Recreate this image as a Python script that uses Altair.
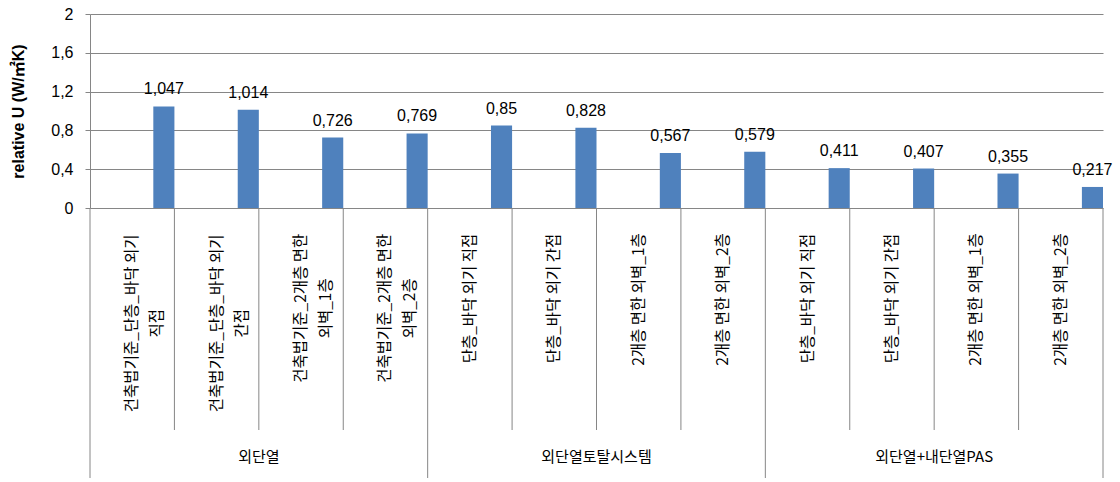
import altair as alt
import pandas as pd

# ---- data ----
categories = [
    "건축법기준_단층_바닥 외기\n직접",
    "건축법기준_단층_바닥 외기\n간접",
    "건축법기준_2개층 면한\n외벽_1층",
    "건축법기준_2개층 면한\n외벽_2층",
    "단층_바닥 외기 직접",
    "단층_바닥 외기 간접",
    "2개층 면한 외벽_1층",
    "2개층 면한 외벽_2층",
    "단층_바닥 외기 직접",
    "단층_바닥 외기 간접",
    "2개층 면한 외벽_1층",
    "2개층 면한 외벽_2층",
]
groups = ["외단열", "외단열토탈시스템", "외단열+내단열PAS"]
group_index = [0, 0, 0, 0, 1, 1, 1, 1, 2, 2, 2, 2]
values = [1.047, 1.014, 0.726, 0.769, 0.85, 0.828, 0.567, 0.579, 0.411, 0.407, 0.355, 0.217]
y_ticks = [0, 0.4, 0.8, 1.2, 1.6, 2]

# ---- layout helpers ----
W, H = 1013, 194
LAB_FS = 15.5
KFONT = "Noto Sans CJK KR"
NFONT = "Liberation Sans, Noto Sans CJK KR"


def est_len(s):
    w = 0.0
    for c in s:
        if "\uac00" <= c <= "\ud7a3":
            w += LAB_FS
        elif c == " ":
            w += 0.3 * LAB_FS
        elif c == "_":
            w += 0.5 * LAB_FS
        else:
            w += 0.56 * LAB_FS
    return w


n = len(values)
df = pd.DataFrame({
    "idx": list(range(n)),
    "value": values,
    "vtext": [str(v).replace(".", ",") for v in values],
    "lines": [c.split("\n") for c in categories],
})
df["x0"] = df["idx"] + 0.75
df["x1"] = df["idx"] + 1.0
df["xc"] = df["idx"] + 0.875
df["xm"] = df["idx"] + 0.5
df["ypix"] = [214 + max(est_len(l) for l in c.split("\n")) / 2 for c in categories]

gdf = pd.DataFrame({"group": groups, "xm": [g * 4 + 2 for g in range(len(groups))]})
inner = pd.DataFrame({"pos": [i for i in range(1, n) if i % 4 != 0]})
outer = pd.DataFrame({"pos": [i for i in range(0, n + 1) if i % 4 == 0]})

xscale = alt.Scale(domain=[0, n], nice=False, zero=False)
yscale = alt.Scale(domain=[0, 2], nice=False)

yaxis = alt.Axis(
    values=y_ticks,
    labelExpr="replace(toString(datum.value), '.', ',')",
    grid=True, gridColor="#868686", gridWidth=1,
    domainColor="#868686", tickColor="#868686", tickSize=5,
    labelPadding=12, labelFontSize=16, labelFont=NFONT, labelColor="black",
    title="relative U (W/㎡K)", titleFontSize=16, titleFontWeight="bold",
    titleFont=NFONT, titleColor="black",
    titleX=-72, titleY=H / 2, titleAngle=270, titleAlign="center", titleBaseline="middle",
)

base = alt.Chart(df)

bars = base.mark_bar(color="#4F81BD").encode(
    x=alt.X("x0:Q", scale=xscale, axis=None),
    x2="x1:Q",
    y=alt.Y("value:Q", scale=yscale, axis=yaxis),
    y2=alt.datum(0),
)

vlabels = base.mark_text(font=NFONT, fontSize=16, color="black", baseline="alphabetic", dy=-12).encode(
    x=alt.X("xc:Q", scale=xscale, axis=None),
    y=alt.Y("value:Q", scale=yscale, axis=yaxis),
    text="vtext:N",
)

main = alt.layer(bars, vlabels)

catlabels = base.mark_text(
    font=KFONT, fontSize=LAB_FS, color="black", angle=270,
    align="center", baseline="middle", lineHeight=25,
).encode(
    x=alt.X("xm:Q", scale=xscale, axis=None),
    y=alt.Y("ypix:Q", scale=None, axis=None),
    text="lines",
)

inner_rules = alt.Chart(inner).mark_rule(color="#868686").encode(
    x=alt.X("pos:Q", scale=xscale, axis=None),
    y=alt.value(H),
    y2=alt.value(416),
)
outer_rules = alt.Chart(outer).mark_rule(color="#868686").encode(
    x=alt.X("pos:Q", scale=xscale, axis=None),
    y=alt.value(H),
    y2=alt.value(464),
)
glabels = alt.Chart(gdf).mark_text(font=KFONT, fontSize=15, color="black", baseline="middle").encode(
    x=alt.X("xm:Q", scale=xscale, axis=None),
    y=alt.value(443),
    text="group:N",
)

chart = alt.layer(main, catlabels, inner_rules, outer_rules, glabels).resolve_scale(
    y="independent"
).properties(
    width=W, height=H,
    padding={"left": 90, "top": 14, "right": 17, "bottom": 274},
    autosize=alt.AutoSizeParams(type="none"),
    background="white",
).configure_view(stroke=None)

chart.save("out.html", embed_options={"renderer": "svg", "actions": False})
